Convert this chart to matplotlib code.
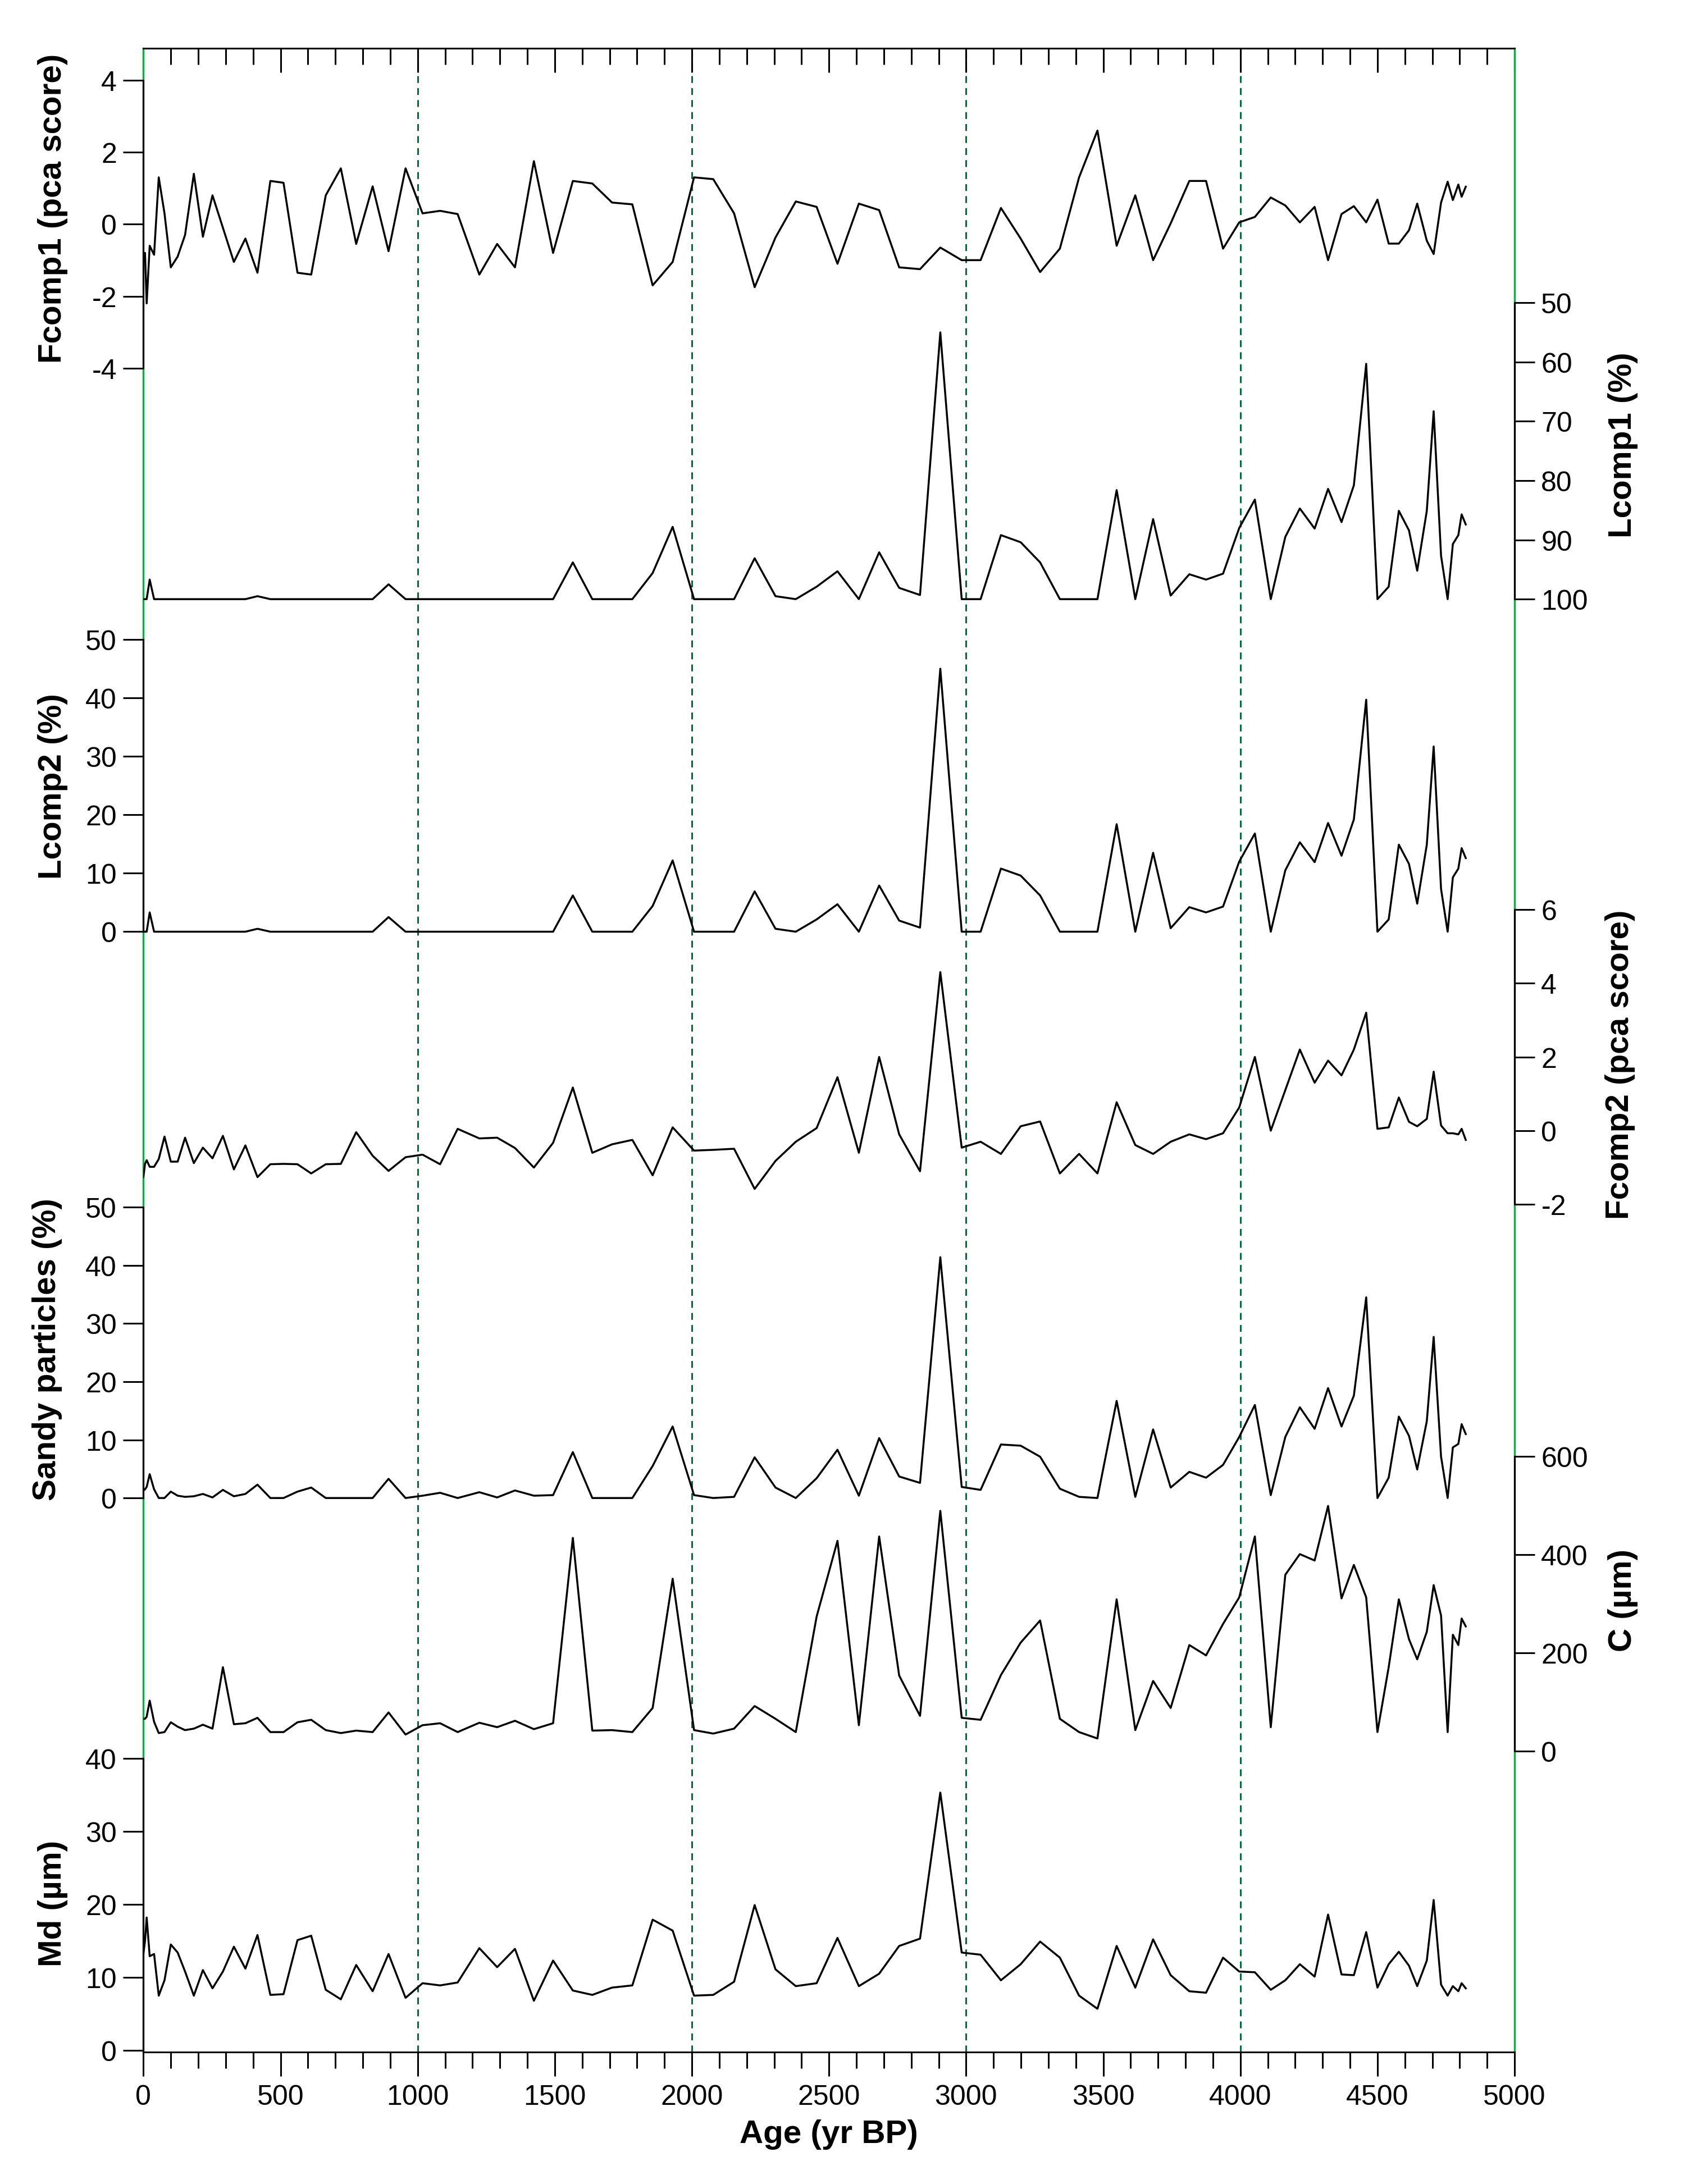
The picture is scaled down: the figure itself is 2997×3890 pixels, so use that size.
"""Multi-proxy record against age, stacked on a shared age axis."""

import matplotlib

matplotlib.use("Agg")
import matplotlib.pyplot as plt
from matplotlib.ticker import MultipleLocator

plt.rcParams["font.family"] = ["Liberation Sans", "DejaVu Sans"]
plt.rcParams["axes.unicode_minus"] = False

ages = [0, 6, 12, 23, 39, 56, 77, 100, 125, 152, 184, 217, 252, 290, 330, 372, 416, 463, 511, 562,
        612, 665, 720, 776, 836, 894, 956, 1018, 1082, 1146,
        1225, 1290, 1355, 1424, 1494, 1566, 1637, 1709, 1783, 1857, 1930, 2008, 2078, 2154, 2229,
        2305, 2379, 2455,
        2531, 2609, 2683, 2756, 2832, 2906, 2984, 3053, 3127, 3199, 3270, 3342, 3412, 3479, 3549,
        3617, 3682, 3746,
        3814, 3875, 3937, 3996, 4053, 4111, 4164, 4217, 4271, 4320, 4369, 4414, 4459, 4500, 4541,
        4578, 4615, 4645, 4680, 4705, 4732, 4756, 4775, 4795, 4807, 4822]

fcomp1 = [-0.8, -0.8, -2.2, -0.6, -0.85, 1.3, 0.3, -1.2, -0.9, -0.3, 1.4, -0.35, 0.8, -0.1, -1.05,
          -0.4, -1.35, 1.2, 1.15, -1.35, -1.4, 0.8, 1.55, -0.55, 1.05, -0.75, 1.55, 0.3, 0.37, 0.28,
          -1.4, -0.55, -1.2, 1.75, -0.8, 1.2, 1.13, 0.6, 0.55, -1.7, -1.05, 1.3, 1.25, 0.3, -1.75,
          -0.37, 0.63, 0.48,
          -1.1, 0.57, 0.39, -1.2, -1.25, -0.65, -1.0, -1.0, 0.45, -0.4, -1.33, -0.68, 1.3, 2.6,
          -0.6, 0.8, -1.0, 0.02,
          1.2, 1.2, -0.68, 0.05, 0.2, 0.74, 0.52, 0.05, 0.48, -1.0, 0.28, 0.5, 0.05, 0.68, -0.54,
          -0.54, -0.17, 0.57, -0.46, -0.83, 0.6, 1.18, 0.67, 1.1, 0.76, 1.04]

lcomp2 = [0, 0, 0, 3.3, 0, 0, 0, 0, 0, 0, 0, 0, 0, 0, 0, 0, 0.5, 0, 0, 0,
          0, 0, 0, 0, 0, 2.5, 0, 0, 0, 0,
          0, 0, 0, 0, 0, 6.2, 0, 0, 0, 4.4, 12.2, 0, 0, 0, 6.9, 0.5, 0, 2.1,
          4.7, 0, 7.9, 1.9, 0.7, 45.0, 0, 0, 10.8, 9.6, 6.2, 0, 0, 0, 18.4, 0, 13.5, 0.6,
          4.2, 3.3, 4.3, 12.0, 16.8, 0, 10.5, 15.3, 11.9, 18.6, 13.0, 19.2, 39.7, 0, 2.1, 14.9,
          11.6, 4.8, 14.9, 31.7, 7.3, 0, 9.3, 10.8, 14.3, 12.6]

lcomp1 = [100, 100, 100, 96.7, 100, 100, 100, 100, 100, 100, 100, 100, 100, 100, 100, 100, 99.5,
          100, 100, 100, 100, 100, 100, 100, 100, 97.5, 100, 100, 100, 100,
          100, 100, 100, 100, 100, 93.8, 100, 100, 100, 95.6, 87.8, 100, 100, 100, 93.1, 99.5,
          100, 97.9,
          95.3, 100, 92.1, 98.1, 99.3, 55.0, 100, 100, 89.2, 90.4, 93.8, 100, 100, 100, 81.6,
          100, 86.5, 99.4,
          95.8, 96.7, 95.7, 88.0, 83.2, 100, 89.5, 84.7, 88.1, 81.4, 87.0, 80.8, 60.3, 100, 97.9,
          85.1, 88.4, 95.2, 85.1, 68.3, 92.7, 100, 90.7, 89.2, 85.7, 87.4]

fcomp2 = [-1.26, -0.9, -0.8, -0.98, -0.98, -0.77, -0.16, -0.84, -0.84, -0.19, -0.88, -0.46, -0.75,
          -0.14, -1.05, -0.4, -1.26, -0.91, -0.9, -0.91, -1.16, -0.91, -0.9, -0.04, -0.68, -1.09,
          -0.72, -0.65, -0.91, 0.05,
          -0.21, -0.19, -0.47, -1.0, -0.33, 1.17, -0.6, -0.37, -0.25, -1.21, 0.09, -0.54, -0.52,
          -0.49, -1.58, -0.82, -0.3, 0.07,
          1.45, -0.6, 2.0, -0.1, -1.1, 4.3, -0.46, -0.3, -0.63, 0.12, 0.25, -1.16, -0.63, -1.16,
          0.77, -0.39, -0.63, -0.3,
          -0.1, -0.23, -0.07, 0.63, 2.0, 0.0, 1.1, 2.2, 1.3, 1.9, 1.5, 2.2, 3.2, 0.05, 0.09, 0.9,
          0.24, 0.12, 0.32, 1.6, 0.14, -0.07, -0.07, -0.1, 0.05, -0.25]

sandy = [1.3, 1.5, 1.9, 4.1, 1.5, 0, 0, 1.1, 0.4, 0.2, 0.3, 0.7, 0.1, 1.4, 0.3, 0.7, 2.3, 0, 0,
         1.1, 1.8, 0, 0, 0, 0, 3.3, 0, 0.4, 0.9, 0,
         1.0, 0.1, 1.3, 0.4, 0.5, 7.9, 0, 0, 0, 5.5, 12.3, 0.5, 0, 0.2, 7.0, 1.8, 0, 3.4,
         8.3, 0.4, 10.3, 3.7, 2.6, 41.4, 1.9, 1.4, 9.2, 9.0, 7.1, 1.6, 0.2, 0, 16.7, 0.2, 11.8,
         1.8,
         4.5, 3.5, 5.7, 10.5, 16.0, 0.5, 10.5, 15.6, 11.9, 18.9, 12.3, 17.6, 34.5, 0, 3.5, 14.0,
         10.7, 4.9, 13.2, 27.7, 7.1, 0, 8.7, 9.3, 12.7, 11.0]

c_um = [66, 66, 70, 103, 60, 37, 39, 59, 50, 43, 46, 54, 46, 171, 55, 57, 68, 39, 39, 59,
        64, 43, 37, 42, 39, 79, 34, 53, 57, 39,
        58, 49, 62, 45, 57, 434, 42, 43, 39, 88, 351, 43, 36, 46, 92, 66, 39, 274,
        428, 53, 437, 154, 72, 489, 68, 64, 155, 221, 266, 66, 39, 26, 309, 43, 143, 88,
        216, 195, 259, 313, 437, 49, 359, 401, 388, 499, 311, 379, 313, 39, 171, 309,
        228, 187, 243, 338, 276, 39, 237, 216, 270, 254]

md = [13.2, 15.0, 18.2, 12.9, 13.2, 7.5, 9.6, 14.5, 13.4, 10.8, 7.5, 11.0, 8.5, 10.8, 14.2,
      11.2, 15.8, 7.6, 7.7, 15.1, 15.7, 8.3, 7.0, 11.7, 8.1, 13.2, 7.2, 9.2, 8.9, 9.3,
      14.0, 11.4, 13.9, 6.8, 12.3, 8.2, 7.6, 8.6, 8.9, 17.9, 16.4, 7.5, 7.6, 9.4, 19.9, 11.1,
      8.8, 9.2,
      15.4, 8.8, 10.5, 14.3, 15.3, 35.3, 13.4, 13.1, 9.6, 11.8, 14.9, 12.7, 7.5, 5.7, 14.3,
      8.6, 15.2, 10.3,
      8.1, 7.9, 12.7, 10.8, 10.7, 8.3, 9.6, 11.8, 10.1, 18.6, 10.4, 10.3, 16.2, 8.6, 11.8, 13.5,
      11.6, 8.8, 12.3, 20.6, 9.0, 7.5, 8.8, 8.1, 9.2, 8.5]

# frame of the plot in preview pixels (image is 1209 x 1570 at that scale)
W, H = 1209.0, 1570.0
FL, FR, FT, FB = 103.0, 1088.0, 35.0, 1475.0
rect = [FL / W, 1 - FB / H, (FR - FL) / W, (FB - FT) / H]

# series: values, side, (tick value, preview y) x2, ticks, label, label position
panels = [
    (fcomp1, "left", (4, 58), (-4, 265), [-4, -2, 0, 2, 4], "Fcomp1 (pca score)", (38, 150)),
    (lcomp1, "right", (50, 218), (100, 431), [50, 60, 70, 80, 90, 100], "Lcomp1 (%)", (1166, 320)),
    (lcomp2, "left", (50, 460), (0, 670), [0, 10, 20, 30, 40, 50], "Lcomp2 (%)", (38, 565)),
    (fcomp2, "right", (6, 654), (-2, 866), [-2, 0, 2, 4, 6], "Fcomp2 (pca score)", (1164, 765)),
    (sandy, "left", (50, 868), (0, 1077), [0, 10, 20, 30, 40, 50], "Sandy particles (%)", (34, 970)),
    (c_um, "right", (600, 1047), (0, 1259), [0, 200, 400, 600], "C (\u00b5m)", (1166, 1150)),
    (md, "left", (40, 1264), (0, 1474), [0, 10, 20, 30, 40], "Md (\u00b5m)", (38, 1368)),
]

FS = 36
LFS = 42
fig = plt.figure(figsize=(29.97, 38.91), dpi=100)
ax = fig.add_axes(rect)
ax.set_xlim(0, 5000)
ax.set_ylim(0, 1)
ax.set_yticks([])
green = "#1aa64a"
for side in ("left", "right"):
    ax.spines[side].set_color(green)
    ax.spines[side].set_linewidth(2.5)
for side in ("top", "bottom"):
    ax.spines[side].set_linewidth(2.2)
ax.xaxis.set_major_locator(MultipleLocator(500))
ax.xaxis.set_minor_locator(MultipleLocator(100))
ax.tick_params(axis="x", which="both", top=True, bottom=True, labelsize=FS, width=2.2, pad=10)
ax.tick_params(axis="x", which="major", length=31)
ax.tick_params(axis="x", which="minor", length=21)
for t in ax.xaxis.get_major_ticks() + ax.xaxis.get_minor_ticks():
    t.tick2line.set_marker(3)  # top ticks point into the plot
ax.set_xlabel("Age (yr BP)", fontsize=LFS, fontweight="bold", labelpad=12)
for x in (1000, 2000, 3000, 4000):
    ax.axvline(x, color="#006b3c", lw=2.2, ls=(0, (4, 3)), zorder=1)

for vals, side, (v1, p1), (v2, p2), ticks, label, (lx, ly) in panels:
    s = fig.add_axes(rect, sharex=ax)
    s.patch.set_visible(False)
    slope = (v2 - v1) / (p2 - p1)
    s.set_ylim(v1 + (FB - p1) * slope, v1 + (FT - p1) * slope)
    s.plot(ages, vals, color="black", lw=2.5, zorder=3)
    for sp in ("top", "bottom", "left", "right"):
        s.spines[sp].set_visible(sp == side)
    s.spines[side].set_bounds(min(ticks), max(ticks))
    s.spines[side].set_linewidth(2.2)
    s.set_yticks(ticks)
    s.yaxis.set_ticks_position(side)
    s.tick_params(axis="y", labelsize=FS, length=26, width=2.2, pad=8)
    s.tick_params(axis="x", which="both", bottom=False, top=False, labelbottom=False)
    fig.text(lx / W, 1 - ly / H, label, rotation=90, fontsize=LFS, fontweight="bold",
             ha="center", va="center")

fig.savefig("out.png", dpi=100)
